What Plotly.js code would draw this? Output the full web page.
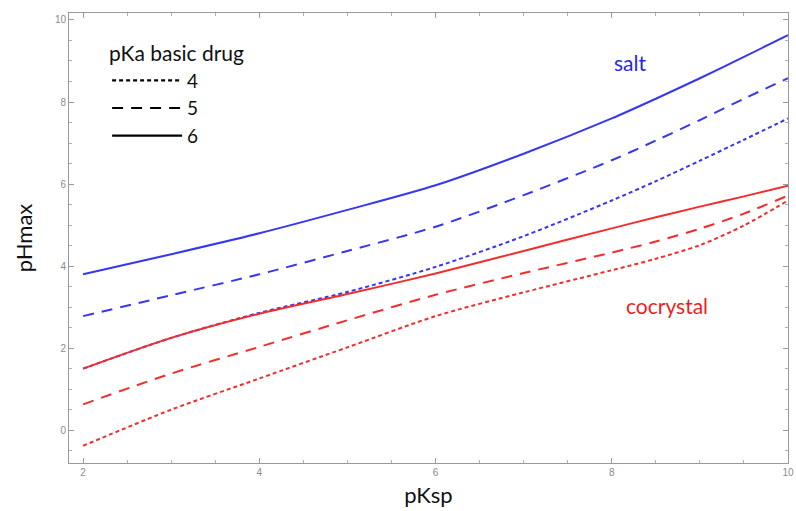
<!DOCTYPE html>
<html>
<head>
<meta charset="utf-8">
<script src="https://cdn.plot.ly/plotly-3.0.1.min.js"></script>
<style>html,body{margin:0;padding:0;background:#fff;}#chart{width:796px;height:511px;}</style>
</head>
<body>
<div id="chart"></div>
<script>
// pKsp values
const pKsp = [2, 3, 4, 5, 6, 7, 8, 8.5, 9, 9.5, 10];

// salt curves (blue)
const saltPka6 = [3.80, 4.29, 4.80, 5.37, 5.97, 6.74, 7.60, 8.08, 8.58, 9.10, 9.63];
const saltPka5 = [2.78, 3.29, 3.80, 4.37, 4.96, 5.73, 6.58, 7.06, 7.56, 8.08, 8.58];
const saltPka4 = [1.50, 2.25, 2.86, 3.37, 3.98, 4.73, 5.60, 6.07, 6.57, 7.08, 7.60];

// cocrystal curves (red)
const cocPka6 = [1.50, 2.25, 2.84, 3.32, 3.82, 4.37, 4.92, 5.19, 5.45, 5.70, 5.96];
const cocPka5 = [0.63, 1.38, 2.03, 2.68, 3.30, 3.83, 4.33, 4.60, 4.91, 5.28, 5.72];
const cocPka4 = [-0.38, 0.50, 1.26, 2.02, 2.78, 3.36, 3.90, 4.18, 4.51, 4.99, 5.60];

const legendLabels = ['4', '5', '6'];
const blue = 'rgb(55,55,240)';
const red = 'rgb(242,45,45)';
const dotDash = '4px,3px';
const longDash = '11px,8px';

function curve(y, color, dash) {
  return {x: pKsp, y: y, mode: 'lines', type: 'scatter', showlegend: false, hoverinfo: 'skip',
    line: {color: color, width: 2, dash: dash, shape: 'spline', smoothing: 0.8}};
}
function legendEntry(name, dash) {
  return {x: [null], y: [null], mode: 'lines', type: 'scatter', name: name, showlegend: true,
    line: {color: 'black', width: 2.2, dash: dash}};
}

const data = [
  curve(saltPka6, blue, 'solid'),
  curve(saltPka5, blue, longDash),
  curve(saltPka4, blue, dotDash),
  curve(cocPka6, red, 'solid'),
  curve(cocPka5, red, longDash),
  curve(cocPka4, red, dotDash),
  legendEntry(legendLabels[0], dotDash),
  legendEntry(legendLabels[1], longDash),
  legendEntry(legendLabels[2], 'solid')
];

const tickFont = {family: 'Liberation Sans, Arial, sans-serif', size: 10, color: '#8a8a8a'};
const textFamily = 'Lato, Open Sans, sans-serif';
const titleFont = {family: textFamily, size: 22, color: '#111'};

const layout = {
  width: 796, height: 511,
  margin: {l: 69, r: 8, t: 13, b: 48},
  paper_bgcolor: '#fff', plot_bgcolor: '#fff',
  showlegend: true,
  legend: {
    x: 0.053, y: 0.953, xanchor: 'left', yanchor: 'top',
    bgcolor: 'rgba(0,0,0,0)', borderwidth: 0,
    font: {family: textFamily, size: 19, color: '#111'}, itemwidth: 70, tracegroupgap: 0,
    title: {text: 'pKa basic drug', font: {family: textFamily, size: 21, color: '#111'}, side: 'top'}
  },
  xaxis: {
    range: [1.84, 10.0], showgrid: false, zeroline: false,
    showline: true, linecolor: '#9a9a9a', linewidth: 1, mirror: 'ticks',
    ticks: 'inside', ticklen: 5, tickcolor: '#9a9a9a', tickvals: [2, 4, 6, 8, 10],
    ticklabeloverflow: 'allow',
    minor: {dtick: 0.5, tick0: 0, ticks: 'inside', ticklen: 3, tickcolor: '#b0b0b0'},
    tickfont: tickFont,
    title: {text: 'pKsp', font: titleFont, standoff: 10}
  },
  yaxis: {
    range: [-0.8, 10.17], showgrid: false, zeroline: false,
    showline: true, linecolor: '#9a9a9a', linewidth: 1, mirror: 'ticks',
    ticks: 'inside', ticklen: 5, tickcolor: '#9a9a9a', tickvals: [0, 2, 4, 6, 8, 10],
    minor: {dtick: 0.5, tick0: 0, ticks: 'inside', ticklen: 3, tickcolor: '#b0b0b0'},
    tickfont: tickFont,
    title: {text: 'pHmax', font: titleFont, standoff: 16}
  },
  annotations: [
    {x: 8.21, y: 8.97, xref: 'x', yref: 'y', text: 'salt', showarrow: false,
     font: {family: textFamily, size: 21, color: 'rgb(40,40,220)'}},
    {x: 8.63, y: 3.05, xref: 'x', yref: 'y', text: 'cocrystal', showarrow: false,
     font: {family: textFamily, size: 21, color: 'rgb(235,30,30)'}}
  ]
};

Plotly.newPlot('chart', data, layout, {displayModeBar: false, staticPlot: true});
</script>
</body>
</html>
